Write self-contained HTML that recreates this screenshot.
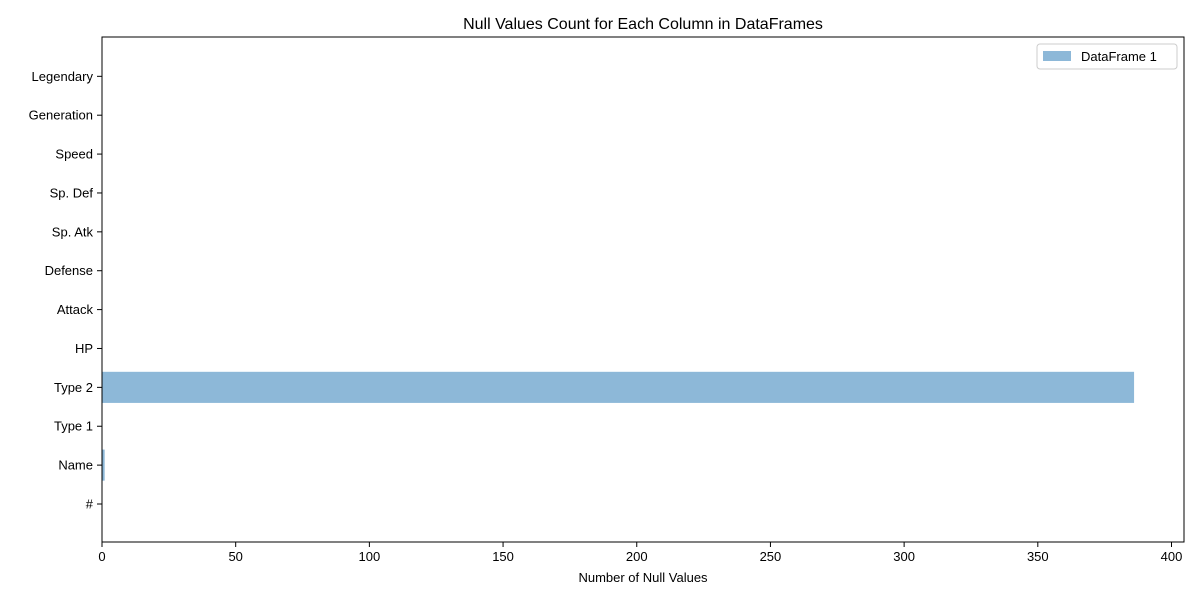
<!DOCTYPE html>
<html><head><meta charset="utf-8"><style>
body{margin:0;background:#fff;font-family:"Liberation Sans","DejaVu Sans",sans-serif;}
svg text{font-family:"Liberation Sans","DejaVu Sans",sans-serif;}
</style></head><body>
<svg id="chart" width="1200" height="600">
<rect x="0" y="0" width="1200" height="600" fill="#fff"/>
<text x="643" y="29" font-size="16" text-anchor="middle">Null Values Count for Each Column in DataFrames</text>
<g id="bars"></g>
<g id="xticks"></g>
<g id="yticks"></g>
<rect x="102" y="37" width="1082" height="505" fill="none" stroke="#000" stroke-width="1"/>
<text x="643" y="582" font-size="13" text-anchor="middle">Number of Null Values</text>
<g>
<rect x="1037" y="44" width="140" height="25" fill="#fff" stroke="#ccc" rx="3"/>
<rect x="1043" y="51" width="28" height="10" fill="#8db8d8"/>
<text x="1081" y="61" font-size="13">DataFrame 1</text>
</g>
</svg>
<script>
const categories = ["#","Name","Type 1","Type 2","HP","Attack","Defense","Sp. Atk","Sp. Def","Speed","Generation","Legendary"];
const nullCounts = [0,1,0,386,0,0,0,0,0,0,0,0];
const xTicks = [0,50,100,150,200,250,300,350,400];
const NS="http://www.w3.org/2000/svg";
const x0=102, pxPerUnit=(1171.5-102)/400;
const xs=v=>x0+v*pxPerUnit;
const step=38.88;
const ys=i=>504-i*step;
function el(t,a){const e=document.createElementNS(NS,t);for(const k in a)e.setAttribute(k,a[k]);return e;}
const bars=document.getElementById('bars'),xt=document.getElementById('xticks'),yt=document.getElementById('yticks');
categories.forEach((c,i)=>{
  const y=ys(i);
  const r=el('rect',{x:xs(0),y:y-step*0.4,width:Math.max(0,xs(nullCounts[i])-xs(0)),height:step*0.8,fill:'#8db8d8'});
  
  
  bars.appendChild(r);
  yt.appendChild(el('line',{x1:102,x2:97,y1:y,y2:y,stroke:'#000'}));
  const t=el('text',{x:93,y:y+4.5,'font-size':13,'text-anchor':'end'});
  t.textContent=c;
  
  
  yt.appendChild(t);
});
xTicks.forEach(v=>{
  const x=xs(v);
  xt.appendChild(el('line',{x1:x,x2:x,y1:542,y2:547,stroke:'#000'}));
  const t=el('text',{x:x,y:561,'font-size':13,'text-anchor':'middle'});
  t.textContent=v;
  
  
  xt.appendChild(t);
});
</script>
</body></html>
